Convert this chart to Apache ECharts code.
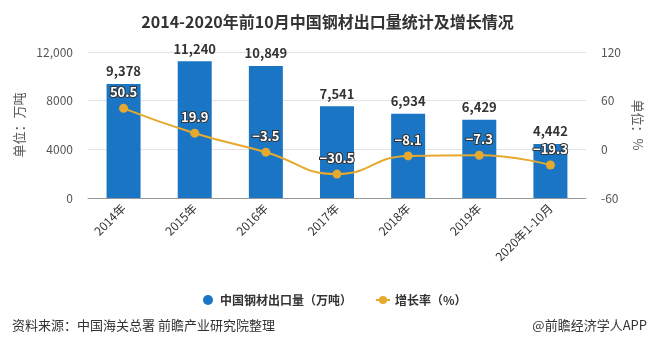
<!DOCTYPE html>
<html><head><meta charset="utf-8">
<script src="https://cdn.jsdelivr.net/npm/echarts@6/dist/echarts.min.js"></script>
<style>html,body{margin:0;padding:0;background:#fff}#c{width:655px;height:345px}</style>
</head><body><div id="c"></div>
<script>
const categories = ['2014年','2015年','2016年','2017年','2018年','2019年','2020年1-10月'];
const exportVolume = [9378, 11240, 10849, 7541, 6934, 6429, 4442];
const growthRate = [50.5, 19.9, -3.5, -30.5, -8.1, -7.3, -19.3];
const leftTicks = {0:'0', 4000:'4000', 8000:'8000', 12000:'12,000'};

const FONT = '"Noto Sans CJK SC", "Noto Sans", sans-serif';
const chart = echarts.init(document.getElementById('c'));
chart.setOption({
  textStyle: {fontFamily: FONT},
  title: [
    {text: '2014-2020年前10月中国钢材出口量统计及增长情况', left: 'center', top: 9,
     textStyle: {fontSize: 16, fontWeight: 'bold', color: '#333', fontFamily: FONT}},
    {text: '资料来源：中国海关总署 前瞻产业研究院整理', left: 7, top: 314,
     textStyle: {fontSize: 13, fontWeight: 'normal', color: '#333', fontFamily: FONT}},
    {text: '@前瞻经济学人APP', right: 3, top: 314,
     textStyle: {fontSize: 13, fontWeight: 'normal', color: '#333', fontFamily: FONT}}
  ],
  legend: {
    top: 289, left: 198, itemGap: 23, itemWidth: 14, itemHeight: 10,
    textStyle: {fontSize: 12, color: '#333', fontWeight: 'bold', fontFamily: FONT},
    data: [{name: '中国钢材出口量（万吨）', icon: 'circle'}, {name: '增长率（%）'}]
  },
  grid: {left: 88, right: 69, top: 52, bottom: 147},
  xAxis: {
    type: 'category', data: categories,
    axisLine: {lineStyle: {color: '#999'}},
    axisTick: {alignWithLabel: true, lineStyle: {color: '#999'}},
    axisLabel: {rotate: 45, fontSize: 12, color: '#333', margin: 8, interval: 0}
  },
  yAxis: [
    {type: 'value', min: 0, max: 12000, interval: 4000,
     name: '单位：万吨', nameLocation: 'middle', nameRotate: 90, nameGap: 54,
     nameTextStyle: {fontSize: 13, color: '#555'},
     axisLine: {show: false}, axisTick: {show: false},
     axisLabel: {fontSize: 12, color: '#555', margin: 15, formatter: v => leftTicks[v] ?? String(v)},
     splitLine: {lineStyle: {color: '#e3e3e3'}}},
    {type: 'value', min: -60, max: 120, interval: 60,
     name: '单位：%', nameLocation: 'middle', nameRotate: -90, nameGap: 44,
     nameTextStyle: {fontSize: 13, color: '#555'},
     axisLine: {show: false}, axisTick: {show: false},
     axisLabel: {fontSize: 12, color: '#555', margin: 15},
     splitLine: {show: false}}
  ],
  series: [
    {name: '中国钢材出口量（万吨）', type: 'bar', data: exportVolume, barWidth: 34,
     itemStyle: {color: '#1a76c4'},
     label: {show: true, position: 'top', distance: 6, fontSize: 13, fontWeight: 'bold', color: '#333',
       formatter: p => p.value.toLocaleString('en-US')}},
    {name: '增长率（%）', type: 'line', yAxisIndex: 1, data: growthRate, smooth: true,
     symbol: 'circle', symbolSize: 9,
     lineStyle: {color: '#e6a92d', width: 2}, itemStyle: {color: '#e6a92d'},
     label: {show: true, position: 'top', distance: 5, fontSize: 13, fontWeight: 'bold', color: '#fff',
       textBorderColor: '#333', textBorderWidth: 2,
       formatter: p => (p.value < 0 ? '−' + Math.abs(p.value) : String(p.value))}}
  ]
});
</script></body></html>
